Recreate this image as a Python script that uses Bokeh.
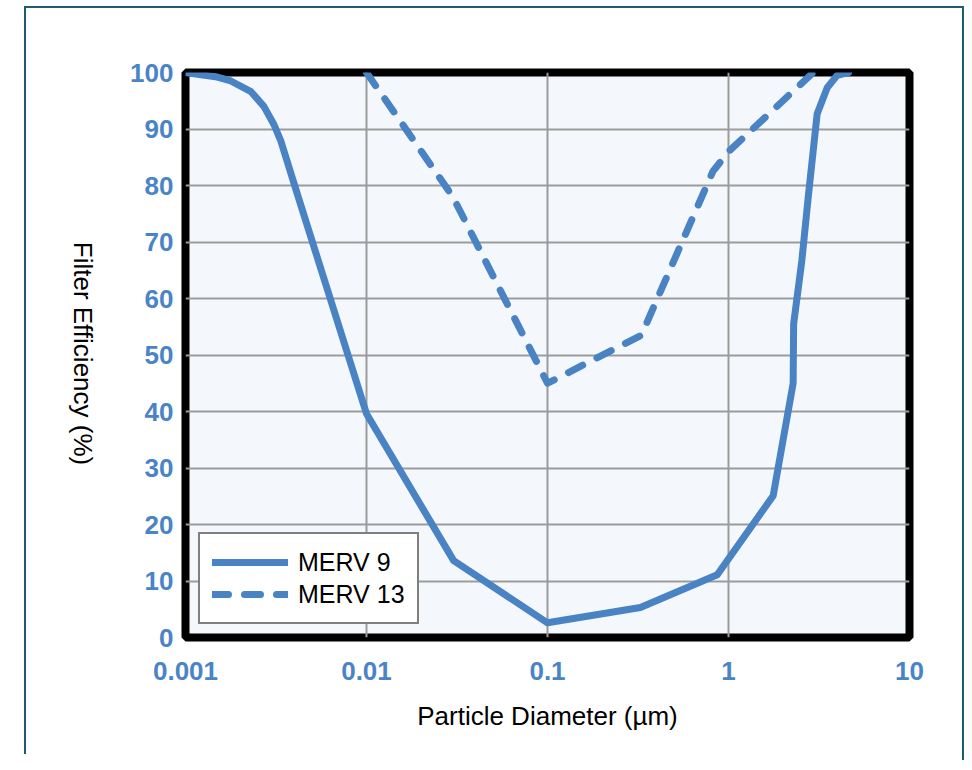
import math
from bokeh.plotting import figure
from bokeh.layouts import row
from bokeh.models import FixedTicker, Legend, LegendItem, Label
from bokeh.embed import file_html
from bokeh.resources import INLINE

# ---- data ----
merv9_x = [0.001, 0.00122, 0.0015, 0.00178, 0.0023, 0.00271, 0.00308, 0.00337, 0.0041,
           0.01, 0.0303, 0.1, 0.326, 0.867, 1.766, 2.276, 2.29, 2.54, 2.755, 3.09, 3.51,
           3.98, 4.6]
merv9_y = [100, 99.6, 99.2, 98.5, 96.6, 94.0, 90.8, 87.8, 79,
           39.6, 13.6, 2.6, 5.3, 11.1, 25.1, 45.0, 55.5, 66.6, 77.8, 92.7, 97.3,
           99.5, 100]

merv13_x = [0.01, 0.03, 0.1, 0.33, 0.82, 1.0, 2.94]
merv13_y = [100, 78, 45, 53.5, 82.5, 86, 100]

x_ticks = [0.001, 0.01, 0.1, 1, 10]
x_labels = ["0.001", "0.01", "0.1", "1", "10"]
y_ticks = [0, 10, 20, 30, 40, 50, 60, 70, 80, 90, 100]

series_names = ["MERV 9", "MERV 13"]
x_title = "Particle Diameter (µm)"
y_title = "Filter Efficiency (%)"

BLUE = "#4A83C4"
LABEL_BLUE = "#4A84C6"
TEAL = "#1D5E6E"
FONT = "Liberation Sans"

H = 754
TITLE_W = 120

# ---- narrow strip holding the y title (reads top to bottom) ----
pt = figure(width=TITLE_W, height=H, x_range=(0, TITLE_W), y_range=(0, H),
            x_axis_location=None, y_axis_location=None, min_border=0,
            output_backend="svg", toolbar_location=None)
pt.background_fill_color = None
pt.border_fill_color = None
pt.outline_line_color = None
pt.xgrid.visible = False
pt.ygrid.visible = False
pt.grid.grid_line_color = None
# the strip's frame is aligned with the main plot frame (bottom at y=637)
pt.add_layout(Label(x=82, y=284, x_units="screen", y_units="screen", text=y_title,
                    angle=-math.pi / 2, text_align="center", text_baseline="middle",
                    text_font=FONT, text_font_size="26px", text_color="black"))

# ---- main chart ----
p = figure(width=956 - TITLE_W, height=H, x_axis_type="log",
           x_range=(x_ticks[0], x_ticks[-1]), y_range=(y_ticks[0], y_ticks[-1]),
           output_backend="svg", toolbar_location=None,
           min_border_left=185 - TITLE_W, min_border_right=47,
           min_border_top=72, min_border_bottom=117)

p.background_fill_color = "#F4F8FC"
p.border_fill_color = None
p.outline_line_color = "black"
p.outline_line_width = 8

# axes
p.xaxis.ticker = FixedTicker(ticks=x_ticks, minor_ticks=[])
p.xaxis.major_label_overrides = {t: l for t, l in zip(x_ticks, x_labels)}
p.yaxis.ticker = FixedTicker(ticks=y_ticks, minor_ticks=[])
for ax in (p.xaxis[0], p.yaxis[0]):
    ax.axis_line_color = None
    ax.major_tick_line_color = None
    ax.minor_tick_line_color = None
    ax.major_tick_out = 0
    ax.major_tick_in = 0
    ax.minor_tick_out = 0
    ax.minor_tick_in = 0
    ax.major_label_text_font = FONT
    ax.major_label_text_font_style = "bold"
    ax.major_label_text_font_size = "26px"
    ax.major_label_text_color = LABEL_BLUE
p.xaxis.major_label_standoff = 24
p.yaxis.major_label_standoff = 12

p.xaxis.axis_label = x_title
p.xaxis.axis_label_text_font = FONT
p.xaxis.axis_label_text_font_style = "normal"
p.xaxis.axis_label_text_font_size = "26px"
p.xaxis.axis_label_text_color = "black"
p.xaxis.axis_label_standoff = 18

# grid
for g in (p.xgrid[0], p.ygrid[0]):
    g.grid_line_color = "#9B9B9B"
    g.grid_line_width = 2

# lines
r1 = p.line(merv9_x, merv9_y, line_color=BLUE, line_width=7, line_join="round", line_cap="round")
r2 = p.line(merv13_x, merv13_y, line_color=BLUE, line_width=7, line_dash="16 16",
            line_join="round", line_cap="round")

legend = Legend(items=[LegendItem(label=series_names[0], renderers=[r1]),
                       LegendItem(label=series_names[1], renderers=[r2])],
                location=(13, 13), padding=12, spacing=0, margin=0,
                glyph_width=76, glyph_height=32, label_height=32, label_standoff=10,
                label_text_font=FONT, label_text_font_size="25px", label_text_color="black",
                border_line_color="black", border_line_width=2,
                background_fill_color="white", background_fill_alpha=1)
p.add_layout(legend)

layout = row(pt, p, spacing=0)
# teal outer frame drawn with CSS on the layout element
layout.styles = {
    "background-color": "white",
    "background-image": f"linear-gradient({TEAL}, {TEAL}), linear-gradient({TEAL}, {TEAL})",
    "background-size": "2px 100%, 100% 2px",
    "background-position": "24px 6px, 24px 6px",
    "background-repeat": "no-repeat",
    "box-shadow": f"6px 8px 0px 0px white, 8px 6px 0px 0px {TEAL}",
}

open("out.html", "w").write(file_html(layout, INLINE))
